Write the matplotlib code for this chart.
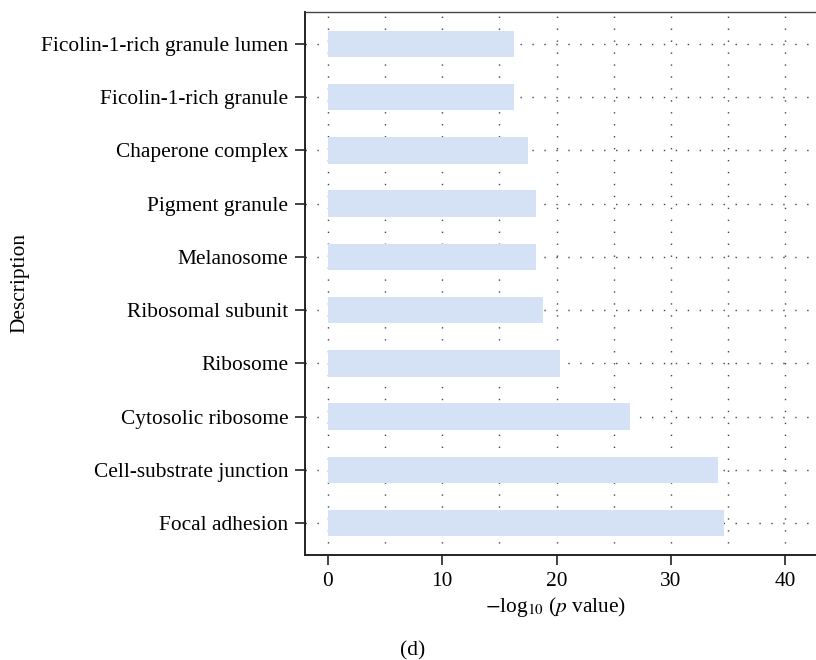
import matplotlib
matplotlib.use("Agg")
import matplotlib.pyplot as plt

# GO cellular component enrichment terms and their significance
terms = [
    "Focal adhesion",
    "Cell-substrate junction",
    "Cytosolic ribosome",
    "Ribosome",
    "Ribosomal subunit",
    "Melanosome",
    "Pigment granule",
    "Chaperone complex",
    "Ficolin-1-rich granule",
    "Ficolin-1-rich granule lumen",
]
neg_log10_p = [34.6, 34.1, 26.4, 20.3, 18.8, 18.2, 18.2, 17.5, 16.3, 16.3]
x_ticks = [0, 10, 20, 30, 40]
grid_ticks = [0, 5, 10, 15, 20, 25, 30, 35, 40]

plt.rcParams["font.family"] = ["Liberation Serif", "DejaVu Serif"]
plt.rcParams["mathtext.fontset"] = "stix"

FS = 15.4

fig = plt.figure(figsize=(8.16, 6.6), dpi=100)
W, H = 816, 660
left_px, top_px, bottom_px = 305, 12, 555
x_min, x_max = -2.0, 44.0
px_per_unit = (785.3 - 327.7) / 40.0
width_px = (x_max - x_min) * px_per_unit
ax = fig.add_axes([left_px / W, (H - bottom_px) / H, width_px / W, (bottom_px - top_px) / H])

y = list(range(len(terms)))
dots = (0, (1, 7.6))
for g in grid_ticks:
    ax.axvline(g, color="#444444", lw=1.0, ls=dots, zorder=0)
for yy in y:
    ax.axhline(yy, color="#444444", lw=1.0, ls=dots, zorder=0)

ax.barh(y, neg_log10_p, height=0.5, color="#D5E1F4", zorder=2)

ax.set_xlim(x_min, x_max)
ax.set_ylim(-0.6, len(terms) - 0.4)
ax.set_yticks(y)
ax.set_yticklabels(terms, fontsize=FS)
ax.set_xticks(x_ticks)
ax.set_xticklabels([str(t) for t in x_ticks], fontsize=FS)
ax.tick_params(axis="both", direction="out", length=7, width=1.2, color="#222222", pad=5)

for side in ("left", "bottom"):
    ax.spines[side].set_linewidth(1.4)
    ax.spines[side].set_color("#222222")
ax.spines["top"].set_linewidth(1.0)
ax.spines["top"].set_color("#444444")
ax.spines["right"].set_visible(False)

fig.text(20 / W, 1 - 283 / H, "Description", rotation=90, ha="center", va="center", fontsize=FS)
fig.text(556 / W, 1 - 607 / H, r"$-$log$_{10}$ ($\it{p}$ value)", ha="center", va="center", fontsize=FS)
fig.text(413 / W, 1 - 651 / H, "(d)", ha="center", va="center", fontsize=FS)

fig.savefig("out.png", dpi=100)
